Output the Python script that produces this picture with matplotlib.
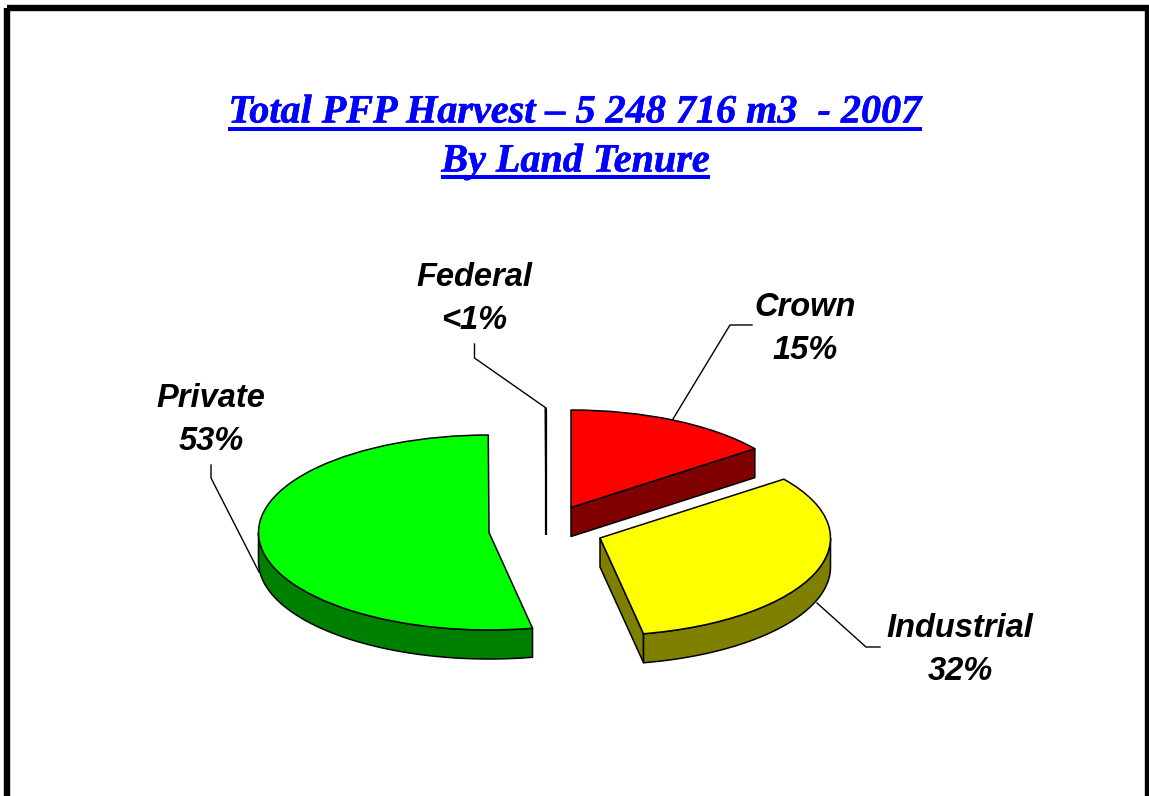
import numpy as np
import matplotlib
matplotlib.use("Agg")
import matplotlib.pyplot as plt
import matplotlib.patheffects as pe
from matplotlib.patches import Polygon, Wedge, Rectangle
from matplotlib.transforms import Affine2D

# ---- data
categories = ["Crown", "Industrial", "Private", "Federal"]
shares = [14.7, 32.3, 53.0, 0.05]
value_labels = ["15%", "32%", "53%", "<1%"]
top_colors = ["#FF0000", "#FFFF00", "#00FF00", "#FFFFFF"]
wall_colors = ["#800000", "#808000", "#008000", "#000000"]
title_lines = ["Total PFP Harvest \u2013 5 248 716 m3  - 2007", "By Land Tenure"]

W, H = 1149, 796
fig = plt.figure(figsize=(W / 100, H / 100), dpi=100, facecolor="white")
ax = fig.add_axes([0, 0, 1, 1])
ax.set_xlim(0, W)
ax.set_ylim(H, 0)
ax.axis("off")

# frame
ax.add_patch(Rectangle((7, 8), 1140.5, 810, fill=False, ec="black", lw=4.6, zorder=1))

# titles
blue = "#0000FF"
title_pos = [(575, 122.5), (575.5, 171.5)]
under_y = [128.7, 177]
for s, (x, y), uy in zip(title_lines, title_pos, under_y):
    t = ax.text(x, y, s, ha="center", va="baseline", color=blue, fontsize=28.9,
                family="Liberation Serif", weight="bold", style="italic",
                path_effects=[pe.withStroke(linewidth=0.4, foreground=blue)])
    fig.canvas.draw()
    bb = t.get_window_extent().transformed(ax.transData.inverted())
    ax.plot([bb.x0, bb.x1], [uy, uy], color=blue, lw=2.9, solid_capstyle="butt")

# pie geometry
RX, RY, DEPTH = 230.5, 97.5, 29
centers = {"Crown": (571, 507.5), "Industrial": (600, 538), "Private": (489, 532.5), "Federal": (546, 506)}


def pt(cx, cy, a):
    return cx + RX * np.cos(a), cy - RY * np.sin(a)


fractions = np.array(shares) / np.sum(shares)
angle = 90.0
for name, frac, top_c, wall_c in zip(categories, fractions, top_colors, wall_colors):
    t_hi = angle
    t_lo = angle - frac * 360.0
    angle = t_lo
    cx, cy = centers[name]
    a_hi, a_lo = np.radians(t_hi), np.radians(t_lo)
    kw = dict(ec="black", lw=1.1, joinstyle="round", zorder=3)
    # clockwise radial wall, seen when it faces the viewer
    if np.cos(a_lo) > 1e-6:
        x1, y1 = pt(cx, cy, a_lo)
        ax.add_patch(Polygon([(cx, cy), (x1, y1), (x1, y1 + DEPTH), (cx, cy + DEPTH)], fc=wall_c, **kw))
    # outer wall: front half of the arc only
    ts = np.linspace(a_lo, a_hi, 300)
    ts = ts[np.sin(ts) <= 0]
    if len(ts) > 1:
        xs, ys = pt(cx, cy, ts)
        ax.add_patch(Polygon(np.r_[np.c_[xs, ys], np.c_[xs, ys + DEPTH][::-1]], fc=wall_c, **kw))
    # top face
    tr = Affine2D().scale(RX, -RY).translate(cx, cy) + ax.transData
    ax.add_patch(Wedge((0, 0), 1, t_lo, t_hi, fc=top_c, transform=tr, **kw))
    if name == "Federal":
        ax.plot([cx, cx], [cy - RY, cy + DEPTH], color="black", lw=1.6, zorder=4, solid_capstyle="butt")

# labels and leaders
label_pos = {"Crown": (805, 316, 359), "Industrial": (960, 637, 680),
             "Private": (211, 407, 450), "Federal": (474, 286, 329)}
leaders = {"Crown": [(752, 325), (730, 325), (673, 419)],
           "Industrial": [(880, 647), (866, 647), (817, 603)],
           "Private": [(211, 465), (211, 478), (259, 572)],
           "Federal": [(474.5, 344), (474.5, 358), (546, 408)]}
for name, val in zip(categories, value_labels):
    x, y1, y2 = label_pos[name]
    for s, y in ((name, y1), (val, y2)):
        ax.text(x, y, s, ha="center", va="baseline", fontsize=23.5, color="black",
                family="Liberation Sans", weight="bold", style="italic", zorder=5)
    xs, ys = zip(*leaders[name])
    ax.plot(xs, ys, color="black", lw=1.0, zorder=2)

fig.savefig("out.png", dpi=100, facecolor="white")
